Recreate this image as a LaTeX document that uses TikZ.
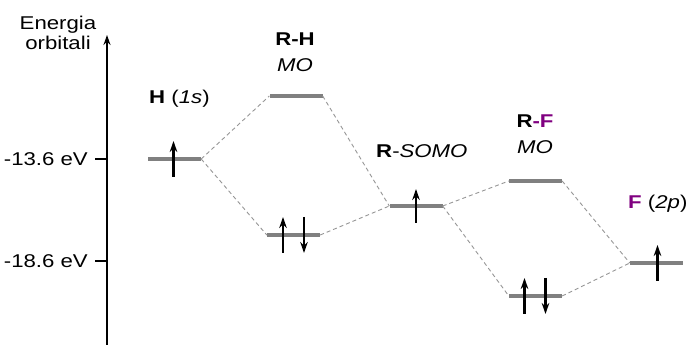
\documentclass[tikz,border=0pt]{standalone}
\usepackage{fontspec}
\setmainfont{Liberation Sans}
\usepackage{xcolor}
\usepackage{tikz}
\usetikzlibrary{calc}
\usetikzlibrary{arrows.meta}

\definecolor{levelgray}{RGB}{128,128,128}
\definecolor{dashgray}{RGB}{150,150,150}
\definecolor{fluor}{RGB}{128,0,128}

\begin{document}
\begin{tikzpicture}
    [
        x=1pt, y=-1pt,
        txt/.style={font=\fontsize{18.5}{22}\selectfont, xscale=1.2, inner sep=0pt},
        level/.style={fill=levelgray, draw=none, inner sep=0pt,
            minimum width=53pt, minimum height=4.5pt},
        link/.style={dashgray, dash pattern=on 4pt off 3pt, line width=0.9pt},
        spin/.style={line width=2.2pt, -{Stealth[length=11pt,width=7.5pt]}},
        tick/.style={line width=2pt}
    ]
        %BOX
        \useasboundingbox (0,0) rectangle (689,347);

        %ASSE
        \coordinate (asse0) at (107,345);
        \coordinate (asse1) at (107,35);
        \draw[line width=2.2pt, -{Stealth[length=10pt,width=7pt]}] (asse0) -- (asse1);
        \node[txt, anchor=base] (ener) at (58,30) {Energia};
        \node[txt, anchor=base] (orb) at (58,50) {orbitali};

        %TACCHE
        \coordinate (y136) at (107,159);
        \coordinate (y186) at (107,261);
        \draw[tick] (y136) -- ++(-12,0) node[txt, anchor=east, xshift=-5pt] (t136) {-13.6 eV};
        \draw[tick] (y186) -- ++(-12,0) node[txt, anchor=east, xshift=-5pt] (t186) {-18.6 eV};

        %LIVELLI
        \node[level] (h) at (174.5,159) {};
        \node[level] (rhtop) at (296,96) {};
        \node[level] (rhbot) at (293.5,235) {};
        \node[level] (somo) at (416,206) {};
        \node[level] (rftop) at (535.5,181) {};
        \node[level] (rfbot) at (535.5,296) {};
        \node[level] (f) at (656.5,263) {};

        %TRATTEGGI
        \draw[link] (h.east) -- (rhtop.west);
        \draw[link] (h.east) -- (rhbot.west);
        \draw[link] (rhtop.east) -- (somo.west);
        \draw[link] (rhbot.east) -- (somo.west);
        \draw[link] (somo.east) -- (rftop.west);
        \draw[link] (somo.east) -- (rfbot.west);
        \draw[link] (rftop.east) -- (f.west);
        \draw[link] (rfbot.east) -- (f.west);

        %ELETTRONI
        \draw[spin] ([xshift=-1pt,yshift=-18pt]h.center) -- ([xshift=-1pt,yshift=18pt]h.center);
        \draw[spin] ([xshift=-10.5pt,yshift=-18pt]rhbot.center) -- ([xshift=-10.5pt,yshift=18pt]rhbot.center);
        \draw[spin] ([xshift=10.5pt,yshift=18pt]rhbot.center) -- ([xshift=10.5pt,yshift=-18pt]rhbot.center);
        \draw[spin] ([yshift=-17pt]somo.center) -- ([yshift=17pt]somo.center);
        \draw[spin] ([xshift=-11pt,yshift=-18pt]rfbot.center) -- ([xshift=-11pt,yshift=18pt]rfbot.center);
        \draw[spin] ([xshift=10pt,yshift=18pt]rfbot.center) -- ([xshift=10pt,yshift=-18pt]rfbot.center);
        \draw[spin] ([xshift=1pt,yshift=-18pt]f.center) -- ([xshift=1pt,yshift=18pt]f.center);

        %ETICHETTE
        \node[txt, anchor=base west] (lh) at (149,104) {\textbf{H} (\textit{1s})};
        \node[txt, anchor=base] (lrh) at (295,46) {\textbf{R-H}};
        \node[txt, anchor=base] (lrhmo) at (295,72) {\textit{MO}};
        \node[txt, anchor=base west] (lsomo) at (376,158) {\textbf{R}-\textit{SOMO}};
        \node[txt, anchor=base] (lrf) at (535,128) {\textbf{R\textcolor{fluor}{-F}}};
        \node[txt, anchor=base] (lrfmo) at (535,154) {\textit{MO}};
        \node[txt, anchor=base west] (lf) at (628,209) {\textbf{\textcolor{fluor}{F}} (\textit{2p})};
    \end{tikzpicture}
\end{document}
